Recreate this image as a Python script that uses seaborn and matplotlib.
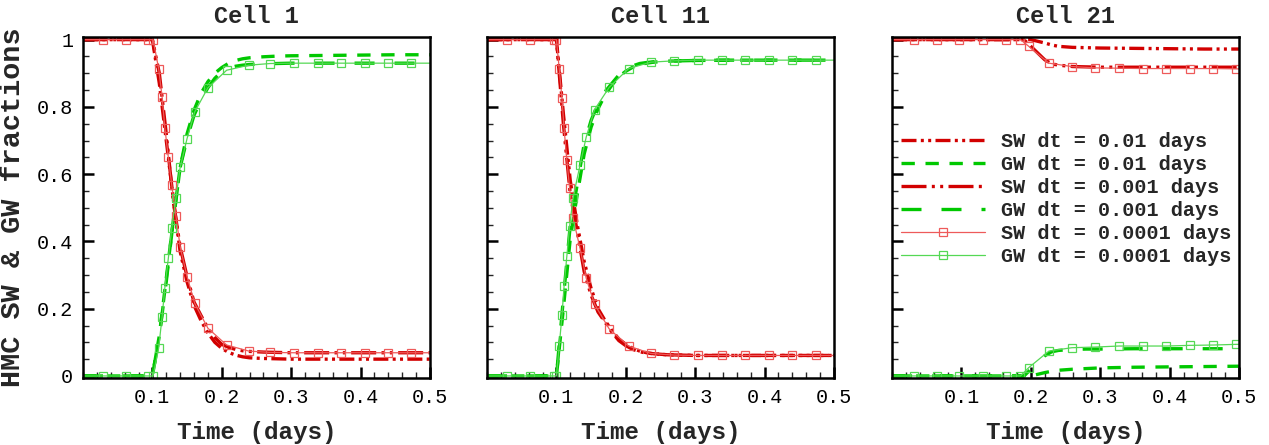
import matplotlib
matplotlib.use("Agg")
import matplotlib.pyplot as plt
import seaborn as sns
from matplotlib.ticker import MultipleLocator, FuncFormatter

# ---- time grid shared by the dt = 0.01 and dt = 0.001 runs ----
t_coarse = [0.0, 0.1, 0.11, 0.12, 0.13, 0.14, 0.15, 0.16, 0.17, 0.18, 0.19, 0.2,
            0.21, 0.22, 0.23, 0.24, 0.26, 0.28, 0.3, 0.35, 0.4, 0.45, 0.5]

# ---- Cell 1 ----
sw1_dt01 = [1, 1, 0.87, 0.70, 0.53, 0.37, 0.28, 0.21, 0.165, 0.128, 0.10, 0.082,
            0.070, 0.062, 0.057, 0.054, 0.052, 0.051, 0.050, 0.050, 0.050, 0.050, 0.050]
gw1_dt01 = [0, 0, 0.12, 0.29, 0.46, 0.62, 0.72, 0.79, 0.84, 0.875, 0.90, 0.917,
            0.930, 0.938, 0.943, 0.946, 0.949, 0.951, 0.952, 0.953, 0.954, 0.955, 0.955]
sw1_dt001 = [1, 1, 0.90, 0.72, 0.52, 0.384, 0.295, 0.22, 0.18, 0.142, 0.114, 0.094,
             0.085, 0.079, 0.075, 0.073, 0.071, 0.070, 0.069, 0.069, 0.069, 0.069, 0.069]
gw1_dt001 = [0, 0, 0.12, 0.28, 0.46, 0.62, 0.706, 0.775, 0.82, 0.857, 0.885, 0.905,
             0.915, 0.921, 0.924, 0.926, 0.928, 0.929, 0.930, 0.930, 0.930, 0.930, 0.930]
t1_fine = [0.0, 0.029, 0.062, 0.094, 0.101, 0.109, 0.114, 0.118, 0.123, 0.128, 0.134,
           0.14, 0.15, 0.161, 0.18, 0.207, 0.239, 0.27, 0.304, 0.338, 0.372, 0.406,
           0.44, 0.473, 0.5]
sw1_fine = [1, 1, 1, 1, 1, 0.914, 0.83, 0.737, 0.65, 0.567, 0.475, 0.384, 0.295, 0.216,
            0.142, 0.092, 0.074, 0.070, 0.069, 0.069, 0.069, 0.069, 0.069, 0.069, 0.069]
gw1_fine = [0, 0, 0, 0, 0, 0.082, 0.176, 0.263, 0.35, 0.44, 0.53, 0.62, 0.706, 0.785,
            0.857, 0.909, 0.924, 0.929, 0.930, 0.930, 0.930, 0.930, 0.930, 0.930, 0.930]

# ---- Cell 11 ----
sw11_dt01 = [1, 1, 0.78, 0.58, 0.45, 0.34, 0.26, 0.20, 0.165, 0.135, 0.11, 0.094,
             0.082, 0.074, 0.069, 0.066, 0.063, 0.062, 0.061, 0.061, 0.061, 0.061, 0.061]
gw11_dt01 = [0, 0, 0.20, 0.41, 0.54, 0.66, 0.74, 0.795, 0.835, 0.865, 0.89, 0.906,
             0.918, 0.926, 0.930, 0.933, 0.936, 0.937, 0.938, 0.939, 0.939, 0.939, 0.939]
sw11_dt001 = [1, 1, 0.75, 0.54, 0.43, 0.31, 0.24, 0.19, 0.16, 0.13, 0.105, 0.09,
              0.079, 0.072, 0.068, 0.066, 0.063, 0.062, 0.061, 0.061, 0.061, 0.061, 0.061]
gw11_dt001 = [0, 0, 0.23, 0.45, 0.57, 0.69, 0.76, 0.81, 0.845, 0.87, 0.895, 0.91,
              0.922, 0.929, 0.932, 0.934, 0.936, 0.937, 0.938, 0.939, 0.939, 0.939, 0.939]
t11_fine = [0.0, 0.029, 0.062, 0.097, 0.1, 0.104, 0.108, 0.111, 0.115, 0.119, 0.124,
            0.134, 0.143, 0.155, 0.176, 0.204, 0.236, 0.27, 0.304, 0.338, 0.372, 0.406,
            0.44, 0.474, 0.5]
sw11_fine = [1, 1, 1, 1, 1, 0.914, 0.825, 0.736, 0.642, 0.558, 0.469, 0.38, 0.29, 0.213,
             0.14, 0.089, 0.067, 0.062, 0.061, 0.061, 0.061, 0.061, 0.061, 0.061, 0.061]
gw11_fine = [0, 0, 0, 0, 0, 0.089, 0.18, 0.267, 0.356, 0.445, 0.53, 0.627, 0.711, 0.792,
             0.858, 0.914, 0.933, 0.937, 0.939, 0.939, 0.939, 0.939, 0.939, 0.939, 0.939]

# ---- Cell 21 ----
sw21_dt01 = [1, 1, 1, 1, 1, 1, 1, 1, 1, 1, 1, 1, 0.995, 0.99, 0.984, 0.98, 0.977,
             0.976, 0.975, 0.974, 0.973, 0.972, 0.972]
gw21_dt01 = [0, 0, 0, 0, 0, 0, 0, 0, 0, 0, 0, 0, 0.005, 0.01, 0.014, 0.017, 0.020,
             0.022, 0.024, 0.026, 0.027, 0.028, 0.029]
sw21_dt001 = [1, 1, 1, 1, 1, 1, 1, 1, 1, 1, 1, 0.98, 0.96, 0.94, 0.928, 0.924, 0.92,
              0.919, 0.918, 0.918, 0.918, 0.918, 0.918]
gw21_dt001 = [0, 0, 0, 0, 0, 0, 0, 0, 0, 0, 0, 0.02, 0.04, 0.06, 0.072, 0.076, 0.079,
              0.080, 0.080, 0.081, 0.081, 0.081, 0.081]
t21_fine = [0.0, 0.031, 0.064, 0.097, 0.131, 0.164, 0.185, 0.197, 0.226, 0.259, 0.293,
            0.327, 0.361, 0.395, 0.429, 0.463, 0.496, 0.5]
sw21_fine = [1, 1, 1, 1, 1, 1, 1, 0.98, 0.93, 0.92, 0.916, 0.915, 0.914, 0.914, 0.914,
             0.914, 0.913, 0.913]
gw21_fine = [0, 0, 0, 0, 0, 0, 0, 0.025, 0.074, 0.084, 0.086, 0.089, 0.089, 0.089, 0.091,
             0.092, 0.094, 0.094]

cells = ["Cell 1", "Cell 11", "Cell 21"]
labels = ["SW dt = 0.01 days", "GW dt = 0.01 days", "SW dt = 0.001 days",
          "GW dt = 0.001 days", "SW dt = 0.0001 days", "GW dt = 0.0001 days"]

RED = "#d20000"
GREEN = "#00c800"
RED_L = "#ee5a5a"
GREEN_L = "#55d855"

sns.set_style("ticks")
plt.rcParams["font.family"] = ["Liberation Mono", "DejaVu Sans Mono"]

fig = plt.figure(figsize=(12.69, 4.45), dpi=100)
lefts = [0.0654, 0.3838, 0.703]
axes = [fig.add_axes([l, 0.1506, 0.2734, 0.7664]) for l in lefts]

panel_data = [
    (sw1_dt01, gw1_dt01, sw1_dt001, gw1_dt001, t1_fine, sw1_fine, gw1_fine),
    (sw11_dt01, gw11_dt01, sw11_dt001, gw11_dt001, t11_fine, sw11_fine, gw11_fine),
    (sw21_dt01, gw21_dt01, sw21_dt001, gw21_dt001, t21_fine, sw21_fine, gw21_fine),
]

for i, (ax, name, d) in enumerate(zip(axes, cells, panel_data)):
    sw01, gw01, sw001, gw001, tf, swf, gwf = d
    lw = 2.4
    sns.lineplot(x=t_coarse, y=sw01, ax=ax, color=RED, lw=lw, errorbar=None,
                 linestyle=(0, (4.5, 1.3, 0.9, 1.3, 0.9, 1.3)), label=labels[0])
    sns.lineplot(x=t_coarse, y=gw01, ax=ax, color=GREEN, lw=lw, errorbar=None,
                 linestyle=(0, (4.0, 3.2)), label=labels[1])
    sns.lineplot(x=t_coarse, y=sw001, ax=ax, color=RED, lw=lw, errorbar=None,
                 linestyle=(0, (7.5, 1.6, 0.9, 1.6, 0.9, 1.6)), label=labels[2])
    sns.lineplot(x=t_coarse, y=gw001, ax=ax, color=GREEN, lw=lw, errorbar=None,
                 linestyle=(0, (6.0, 6.0)), label=labels[3])
    marks = list(range(1, len(tf) - 1))
    sns.lineplot(x=tf, y=swf, ax=ax, color=RED_L, lw=0.9, errorbar=None,
                 marker="s", markersize=6, markevery=marks, mfc="none",
                 mec=RED_L, mew=0.9, label=labels[4])
    sns.lineplot(x=tf, y=gwf, ax=ax, color=GREEN_L, lw=0.9, errorbar=None,
                 marker="s", markersize=6, markevery=marks, mfc="none",
                 mec=GREEN_L, mew=0.9, label=labels[5])

    ax.set_xlim(0, 0.5)
    ax.set_ylim(-0.006, 1.008)
    ax.set_xticks([0.1, 0.2, 0.3, 0.4, 0.5])
    ax.xaxis.set_minor_locator(MultipleLocator(0.02))
    ax.yaxis.set_major_locator(MultipleLocator(0.2))
    ax.yaxis.set_minor_locator(MultipleLocator(0.05))
    ax.yaxis.set_major_formatter(FuncFormatter(lambda v, p: f"{v:g}"))
    ax.tick_params(which="major", direction="in", length=8, width=1.8,
                   labelsize=14.5, pad=7, colors="black")
    ax.tick_params(which="minor", direction="in", length=4, width=1.0)
    for sp in ax.spines.values():
        sp.set_linewidth(1.8)
        sp.set_color("black")

    ax.set_title(name, fontsize=17, fontweight="bold", pad=10)
    ax.set_xlabel("Time (days)", fontsize=17.5, fontweight="bold", labelpad=10)
    if i == 0:
        ax.set_ylabel("HMC SW & GW fractions", fontsize=20.5, fontweight="bold",
                      labelpad=8)
    else:
        ax.set_ylabel("")
        ax.tick_params(axis="y", labelleft=False)

    if i == 2:
        ax.legend(loc="upper left", bbox_to_anchor=(0.025, 0.722), frameon=False,
                  prop={"size": 14.5, "weight": "bold"}, handlelength=4.2,
                  handletextpad=0.8, labelspacing=0.2, borderpad=0,
                  borderaxespad=0)
    else:
        ax.get_legend().remove()

fig.savefig("out.png", dpi=100)
